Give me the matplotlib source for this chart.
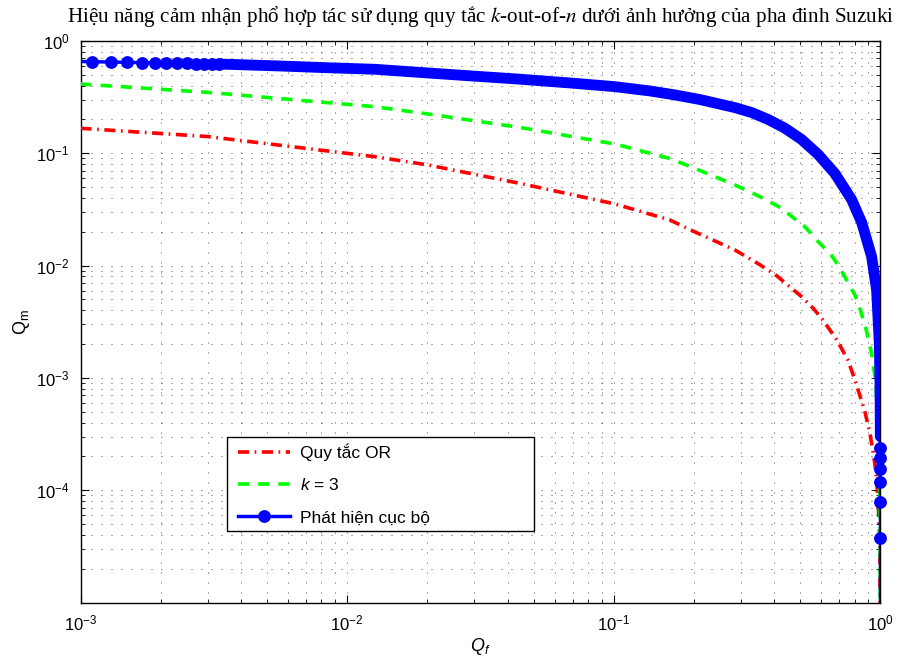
import numpy as np
import matplotlib
matplotlib.use("Agg")
import matplotlib.pyplot as plt
from matplotlib.lines import Line2D
from matplotlib.patches import Rectangle

plt.rcParams['font.family'] = ['Liberation Sans', 'DejaVu Sans']
plt.rcParams['mathtext.fontset'] = 'custom'
plt.rcParams['mathtext.rm'] = 'Liberation Sans'
plt.rcParams['mathtext.it'] = 'Liberation Sans:italic'
plt.rcParams['mathtext.bf'] = 'Liberation Sans:bold'
plt.rcParams['lines.scale_dashes'] = False

# ---------------- data ----------------
# OR rule (red, dash-dot)
or_qf = [0.001, 0.003, 0.0127, 0.0201, 0.0444, 0.101, 0.162, 0.201, 0.2844,
         0.3432, 0.4018, 0.438, 0.506, 0.5594, 0.608, 0.686, 0.755, 0.802,
         0.874, 0.912, 0.944, 0.966, 0.98, 0.995, 0.9999]
or_qm = [0.167, 0.141, 0.0933, 0.0787, 0.054, 0.0354, 0.0255, 0.020, 0.01377,
         0.0106, 0.00837, 0.00705, 0.00529, 0.00417, 0.00328, 0.00218,
         0.00144, 0.00096, 0.0005, 0.000323, 0.000199, 0.000132, 0.000077,
         0.000031, 1e-7]

# k = 3 (green, dashed)
k3_qf = [0.001, 0.003, 0.0127, 0.0201, 0.0444, 0.101, 0.162, 0.201, 0.2844,
         0.333, 0.3793, 0.4257, 0.4706, 0.5206, 0.584, 0.6461, 0.694, 0.7463,
         0.8017, 0.8252, 0.88, 0.926, 0.961, 0.99, 0.997, 0.9999]
k3_qm = [0.414, 0.349, 0.26, 0.224, 0.170, 0.121, 0.090, 0.0735, 0.0522,
         0.0440, 0.0376, 0.0324, 0.0267, 0.0222, 0.0163, 0.01287, 0.0101,
         0.00744, 0.00548, 0.00462, 0.0028, 0.00165, 0.0009, 0.00015,
         0.00004, 1e-7]

# Local detection (blue, line with circle markers)
loc_qf = [0.001, 0.0011, 0.0013, 0.0015, 0.0017, 0.0019, 0.0021, 0.0023,
          0.0025, 0.0027, 0.0029, 0.0031, 0.0033, 0.0056, 0.00862, 0.0127,
          0.0201, 0.0302, 0.0444, 0.0684, 0.101, 0.1366, 0.1695, 0.2104,
          0.2844, 0.3286, 0.3793, 0.438, 0.506, 0.584, 0.6745, 0.779, 0.850,
          0.926, 0.967, 0.99, 0.995, 0.997, 0.9985, 0.9989, 0.9991, 0.9993,
          0.9995, 0.9997, 0.9999, 1.0]
loc_qm = [0.657, 0.654, 0.6495, 0.6455, 0.6422, 0.6389, 0.6363, 0.6337,
          0.6310, 0.6291, 0.6271, 0.6252, 0.6239, 0.599, 0.577, 0.560,
          0.519, 0.486, 0.457, 0.423, 0.392, 0.359, 0.331, 0.301, 0.2553,
          0.2307, 0.2000, 0.1674, 0.1327, 0.0976, 0.0661, 0.0388, 0.0242,
          0.01205, 0.00606, 0.002, 0.001, 0.0006, 0.0003, 0.000238, 0.000194,
          0.000155, 0.000118, 0.0000785, 0.0000375, 1e-7]
# grid points whose markers are seen separately
loc_mark_qf = [0.0011, 0.0013, 0.0015, 0.0017, 0.0019, 0.0021, 0.0023,
               0.0025, 0.0027, 0.0029, 0.0031, 0.0033,
               0.9989, 0.9991, 0.9993, 0.9995, 0.9997, 0.9999]

labels = ['Quy tắc OR', '$k$ = 3', 'Phát hiện cục bộ']
title = ('Hiệu năng cảm nhận phổ hợp tác sử dụng quy tắc '
         '$k$-out-of-$n$ dưới ảnh hưởng của pha đinh Suzuki')

# ---------------- figure ----------------
fig = plt.figure(figsize=(8.99, 6.63), dpi=100)
ax = fig.add_axes([80.5 / 899, 1 - 602.5 / 663, 800 / 899, 561.5 / 663])
ax.set_xscale('log')
ax.set_yscale('log')

blue = '#0000ff'
red = '#ff0000'
green = '#00ff00'
red_dash = (8, 4, 1.2, 4)
green_dash = (8, 6.5)

ax.plot(or_qf, or_qm, color=red, lw=2.6, dashes=red_dash,
        dash_capstyle='butt', zorder=3)
ax.plot(k3_qf, k3_qm, color=green, lw=2.6, dashes=green_dash,
        dash_capstyle='butt', zorder=3)

qf = np.array(loc_qf)
qm = np.array(loc_qm)
ax.plot(qf, qm, color=blue, lw=2.5, zorder=4)
band = (qf >= 0.0033) & (qm >= 0.00028)
ax.plot(qf[band], qm[band], color=blue, lw=7.8, solid_capstyle='round',
        solid_joinstyle='round', zorder=4)
mk = np.isin(qf, loc_mark_qf)
ax.plot(qf[mk], qm[mk], ls='none', marker='o', ms=8.2, color=blue,
        mec=blue, zorder=5, clip_on=False)

ax.set_xlim(1e-3, 1)
ax.set_ylim(1e-5, 1)

ax.grid(True, which='both', linestyle=(0, (0.7, 6.5)), color='0.3',
        linewidth=0.7)
ax.tick_params(which='both', direction='in', top=True, right=True,
               labelsize=12, colors='black')
ax.tick_params(which='major', length=6, width=0.8, pad=8)
ax.tick_params(which='minor', length=3, width=0.6)
ax.yaxis.set_minor_formatter(matplotlib.ticker.NullFormatter())
ax.xaxis.set_minor_formatter(matplotlib.ticker.NullFormatter())
ax.set_yticks([1e-4, 1e-3, 1e-2, 1e-1, 1e0])
for s in ax.spines.values():
    s.set_linewidth(1.0)
    s.set_color('black')

ax.set_xlabel(r'$Q_f$', fontsize=13, labelpad=2)
ax.set_ylabel(r'$\mathrm{Q}_\mathrm{m}$', fontsize=13, labelpad=3)
ax.set_title(title, fontsize=15.2, family=['Liberation Serif', 'DejaVu Serif'],
             math_fontfamily='stix', pad=14)

# legend box (frame drawn separately, as in the reference)
fig.patches.append(Rectangle((227 / 899, 1 - 531 / 663), 307 / 899, 94 / 663,
                             transform=fig.transFigure, facecolor='white',
                             edgecolor='black', linewidth=1.0, zorder=9))
handles = [
    Line2D([], [], color=red, lw=2.6, dashes=red_dash),
    Line2D([], [], color=green, lw=2.6, dashes=green_dash),
    Line2D([], [], color=blue, lw=2.5, marker='o', ms=8.2),
]
leg = fig.legend(handles, labels, loc='upper left',
                 bbox_to_anchor=(232 / 899, 1 - 437 / 663),
                 bbox_transform=fig.transFigure, frameon=False,
                 fontsize=12.5, handlelength=3.0, handletextpad=0.55,
                 labelspacing=0.97, borderpad=0.35, borderaxespad=0)
leg.set_zorder(10)

fig.savefig('out.png', dpi=100)
